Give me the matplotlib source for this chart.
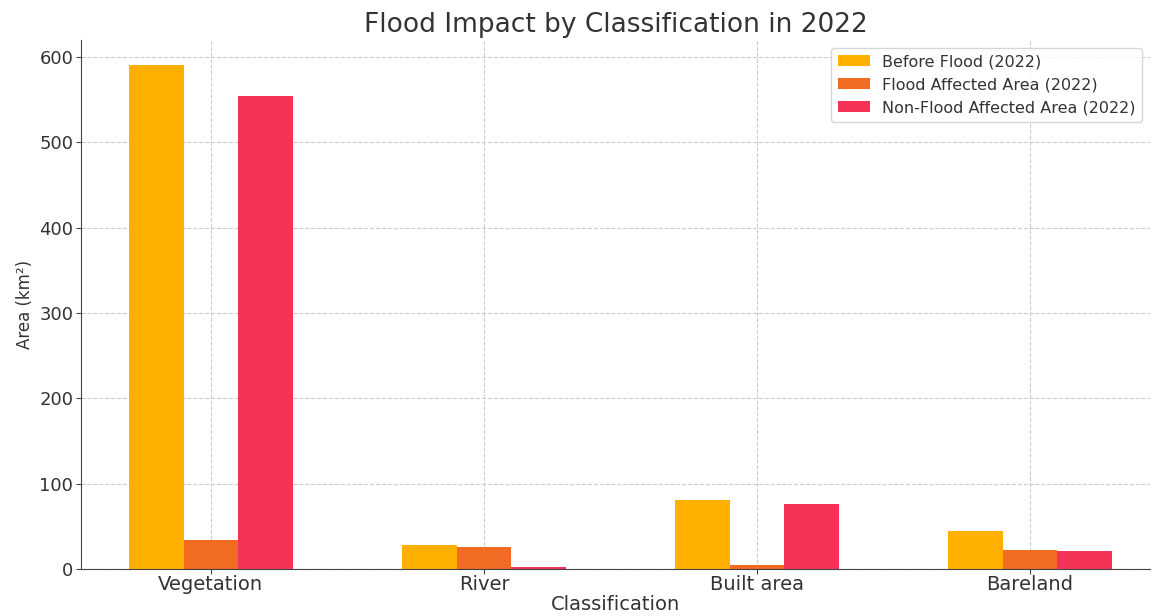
import numpy as np
import matplotlib
matplotlib.use('Agg')
import matplotlib.pyplot as plt

categories = ['Vegetation', 'River', 'Built area', 'Bareland']
before_flood = [590, 28, 81, 45]
flood_affected = [34, 26, 4.7, 23]
non_flood = [554, 2.3, 76, 21.5]
labels = ['Before Flood (2022)', 'Flood Affected Area (2022)', 'Non-Flood Affected Area (2022)']
colors = ['#FFB000', '#F26B22', '#F53357']

x = np.arange(len(categories))
w = 0.2

fig, ax = plt.subplots(figsize=(11.56, 6.16), dpi=100)
ax.bar(x - w, before_flood, w, label=labels[0], color=colors[0])
ax.bar(x, flood_affected, w, label=labels[1], color=colors[1])
ax.bar(x + w, non_flood, w, label=labels[2], color=colors[2])

ax.set_xticks(x)
ax.set_xticklabels(categories, fontsize=14, color='#333333')
ax.tick_params(axis='both', length=3.5, color='#444444')
ax.tick_params(axis='x', pad=0.5)
ax.tick_params(axis='y', pad=2, labelsize=13, labelcolor='#333333')
ax.set_xlim(-0.476, 3.44)
ax.set_xlabel('Classification', fontsize=14, color='#333333', labelpad=1)
ax.set_ylabel('Area (km²)', fontsize=12, color='#333333')
ax.set_title('Flood Impact by Classification in 2022', fontsize=19, color='#333333')
ax.grid(True, linestyle='--', color='#cccccc', linewidth=0.8)
ax.set_axisbelow(True)
for s in ['top', 'right']:
    ax.spines[s].set_visible(False)
for s in ['left', 'bottom']:
    ax.spines[s].set_color('#444444')
ax.legend(loc='upper right', fontsize=11.5, labelcolor='#333333')

fig.subplots_adjust(left=0.07, right=0.995, top=0.935, bottom=0.076)
fig.savefig('out.png', dpi=100)
